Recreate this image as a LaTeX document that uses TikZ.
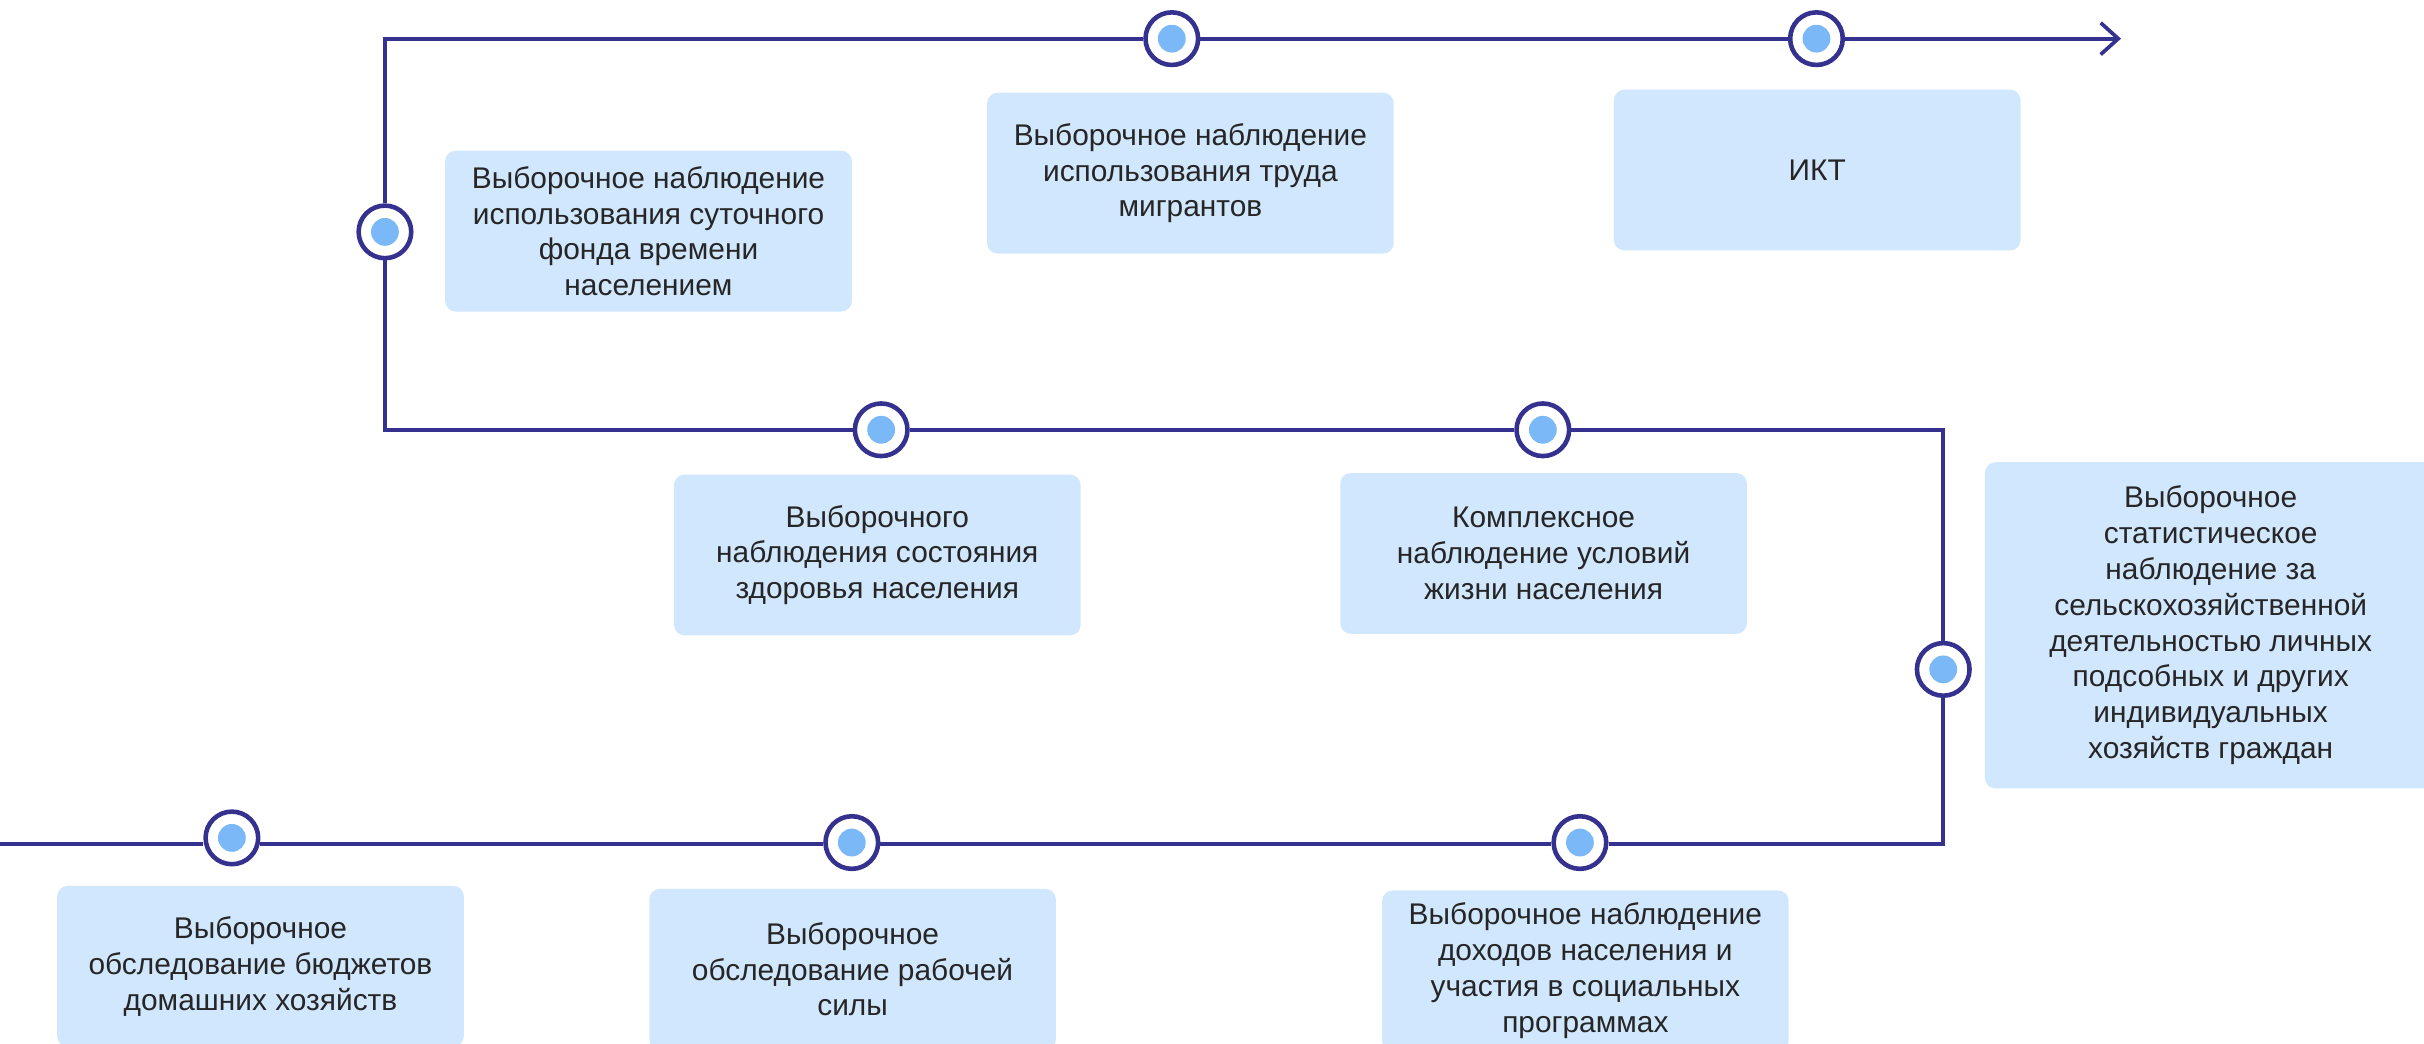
\documentclass[tikz,border=0pt]{standalone}
\usepackage{fontspec}
\setmainfont{Liberation Sans}
\usetikzlibrary{arrows.meta}
\definecolor{navy}{HTML}{35318E}
\definecolor{boxblue}{HTML}{D1E7FD}
\definecolor{dotblue}{HTML}{7AB8F8}
\definecolor{ink}{HTML}{262626}
\tikzset{
	box/.style={fill=boxblue, rounded corners=3pt, minimum width=4.066cm, minimum height=1.608cm,
		align=center, text=ink, font=\fontsize{8.5}{10.2}\selectfont, inner sep=2pt},
	milestone/.style={circle, draw=navy, fill=white, line width=1.3pt, minimum size=0.526cm, inner sep=0pt,
		path picture={\fill[dotblue] (path picture bounding box.center) circle (0.139cm);}},
	track/.style={draw=navy, line width=1.05pt}
}
\begin{document}
\begin{tikzpicture}[x=0.01546cm, y=-0.01546cm]
		\useasboundingbox (0,0) rectangle (1568,675);
		% boxes
		\node[box] (b1) at (419.5,149.5) {Выборочное наблюдение\\использования суточного\\фонда времени\\населением};
		\node[box] (b2) at (770,112) {Выборочное наблюдение\\использования труда\\мигрантов};
		\node[box] (b3) at (1175.5,110) {ИКТ};
		\node[box] (b4) at (567.5,359) {Выборочного\\наблюдения состояния\\здоровья населения};
		\node[box] (b5) at (998.5,358) {Комплексное\\наблюдение условий\\жизни населения};
		\node[box, minimum width=4.514cm, minimum height=3.262cm] (b6) at (1430,404.5) {Выборочное\\статистическое\\наблюдение за\\сельскохозяйственной\\деятельностью личных\\подсобных и других\\индивидуальных\\хозяйств граждан};
		\node[box] (b7) at (168.5,625) {Выборочное\\обследование бюджетов\\домашних хозяйств};
		\node[box] (b8) at (551.5,627) {Выборочное\\обследование рабочей\\силы};
		\node[box] (b9) at (1025.5,628) {Выборочное наблюдение\\доходов населения и\\участия в социальных\\программах};
		% markers
		\node[milestone] (m1) at (758,25) {};
		\node[milestone] (m2) at (1175,25) {};
		\node[milestone] (m3) at (249,150) {};
		\node[milestone] (m4) at (570,278) {};
		\node[milestone] (m5) at (998,278) {};
		\node[milestone] (m6) at (1257,433) {};
		\node[milestone] (m7) at (150,542) {};
		\node[milestone] (m8) at (551,545) {};
		\node[milestone] (m9) at (1022,545) {};
		% corners
		\coordinate (start) at (0,546);
		\coordinate (c1) at (1257,546);
		\coordinate (c2) at (1257,278);
		\coordinate (c3) at (249,278);
		\coordinate (c4) at (249,25);
		\coordinate (finish) at (1372,25);
		\draw[track, -{Straight Barb[length=5pt, width=9pt]}] (start) -- (start -| m7.west) (m7.east |- start) -- (m8.west |- start) (m8.east |- start) -- (m9.west |- start) (m9.east |- start) -- (c1) -- (m6) -- (c2) -- (m5) -- (m4) -- (c3) -- (m3) -- (c4) -- (m1) -- (m2) -- (finish);
	\end{tikzpicture}
\end{document}
